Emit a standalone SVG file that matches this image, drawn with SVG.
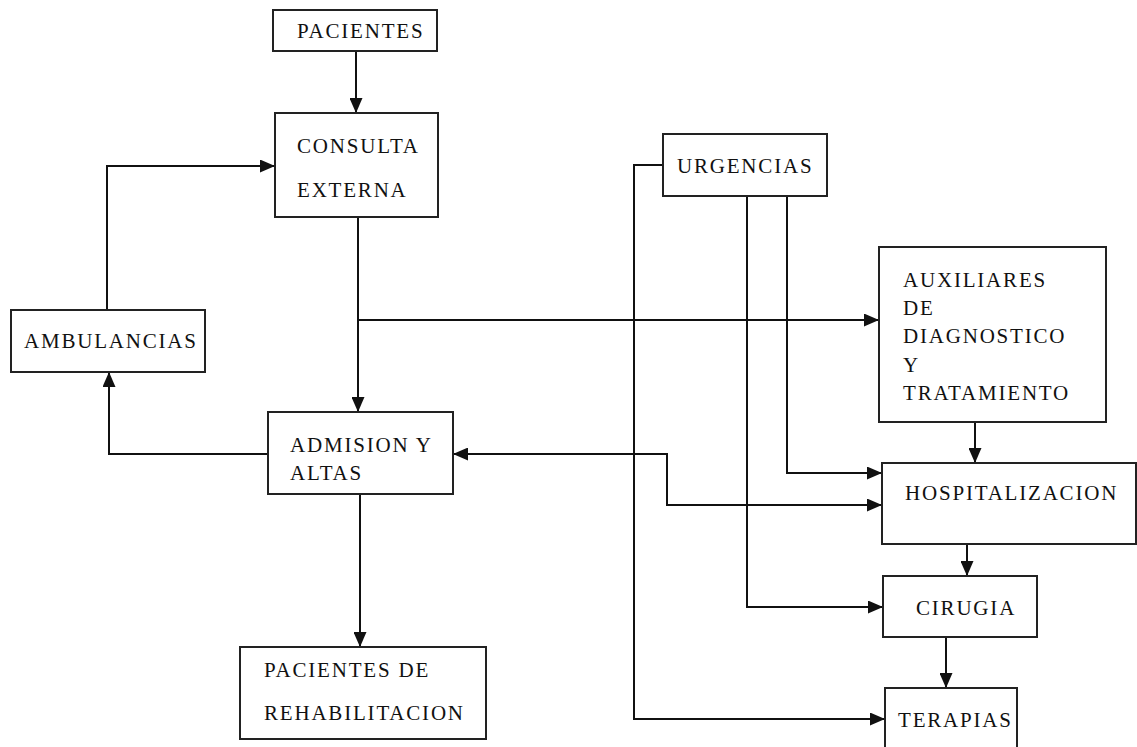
<svg xmlns="http://www.w3.org/2000/svg" width="1137" height="747" viewBox="0 0 1137 747">
<style>
.box{fill:#fff;stroke:#222;stroke-width:2}
.t{font-family:"Liberation Serif","Times New Roman",serif;font-size:21px;letter-spacing:1.8px;fill:#111}
.c{fill:none;stroke:#111;stroke-width:2}
</style>
<defs>
<marker id="ah" markerUnits="userSpaceOnUse" markerWidth="15" markerHeight="13" refX="15" refY="6.5" orient="auto-start-reverse">
<path d="M0,0 L15,6.5 L0,13 Z" fill="#111"/>
</marker>
</defs>
<rect width="1137" height="747" fill="#fff"/>
<g id="connectors">
<path class="c" d="M356,51 V113" marker-end="url(#ah)"/>
<path class="c" d="M107,310 V166 H275" marker-end="url(#ah)"/>
<path class="c" d="M358,217 V412" marker-end="url(#ah)"/>
<path class="c" d="M358,320 H879" marker-end="url(#ah)"/>
<path class="c" d="M268,454 H109 V372" marker-end="url(#ah)"/>
<path class="c" d="M453,454 H667 V505 H882" marker-start="url(#ah)" marker-end="url(#ah)"/>
<path class="c" d="M663,165 H634 V719 H885" marker-end="url(#ah)"/>
<path class="c" d="M747,196 V607 H883" marker-end="url(#ah)"/>
<path class="c" d="M787,196 V473 H882" marker-end="url(#ah)"/>
<path class="c" d="M975,422 V463" marker-end="url(#ah)"/>
<path class="c" d="M967,544 V576" marker-end="url(#ah)"/>
<path class="c" d="M946,637 V688" marker-end="url(#ah)"/>
<path class="c" d="M360,494 V647" marker-end="url(#ah)"/>
</g>
<g id="pacientes">
<rect class="box" x="273" y="10" width="164" height="41"/>
<text class="t" x="297" y="38">PACIENTES</text>
</g>
<g id="consulta">
<rect class="box" x="275" y="113" width="163" height="104"/>
<text class="t" x="297" y="153">CONSULTA</text>
<text class="t" x="297" y="197">EXTERNA</text>
</g>
<g id="ambulancias">
<rect class="box" x="11" y="310" width="194" height="62"/>
<text class="t" x="24" y="348">AMBULANCIAS</text>
</g>
<g id="admision">
<rect class="box" x="268" y="412" width="185" height="82"/>
<text class="t" x="290" y="452">ADMISION Y</text>
<text class="t" x="290" y="480">ALTAS</text>
</g>
<g id="rehabilitacion">
<rect class="box" x="240" y="647" width="246" height="92"/>
<text class="t" x="264" y="677">PACIENTES DE</text>
<text class="t" x="264" y="720">REHABILITACION</text>
</g>
<g id="urgencias">
<rect class="box" x="663" y="134" width="164" height="62"/>
<text class="t" x="677" y="173">URGENCIAS</text>
</g>
<g id="auxiliares">
<rect class="box" x="879" y="247" width="227" height="175"/>
<text class="t" x="903" y="287">AUXILIARES</text>
<text class="t" x="903" y="315">DE</text>
<text class="t" x="903" y="343">DIAGNOSTICO</text>
<text class="t" x="903" y="372">Y</text>
<text class="t" x="903" y="400">TRATAMIENTO</text>
</g>
<g id="hospitalizacion">
<rect class="box" x="882" y="463" width="254" height="81"/>
<text class="t" x="905" y="500">HOSPITALIZACION</text>
</g>
<g id="cirugia">
<rect class="box" x="883" y="576" width="154" height="61"/>
<text class="t" x="916" y="615">CIRUGIA</text>
</g>
<g id="terapias">
<rect class="box" x="885" y="688" width="132" height="64"/>
<text class="t" x="898" y="727">TERAPIAS</text>
</g>
</svg>
